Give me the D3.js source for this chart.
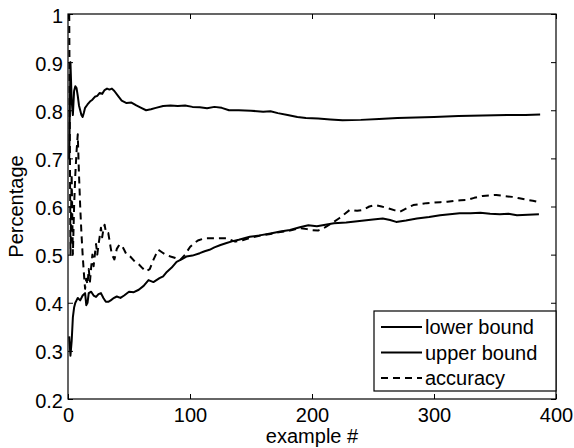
<!DOCTYPE html>
<html>
<head>
<meta charset="utf-8">
<script src="https://cdn.jsdelivr.net/npm/d3@7"></script>
<style>
  body { margin: 0; background: #fff; }
  text { font-family: "Liberation Sans", Arial, sans-serif; fill: #000; }
</style>
</head>
<body>
<div id="chart"></div>
<script>
const xTicks = [0, 100, 200, 300, 400];
const yTicks = [0.2, 0.3, 0.4, 0.5, 0.6, 0.7, 0.8, 0.9, 1];
const yTickLabels = ["0.2", "0.3", "0.4", "0.5", "0.6", "0.7", "0.8", "0.9", "1"];
const seriesNames = ["lower bound", "upper bound", "accuracy"];

const upperX = [1, 2, 3, 4, 5, 6, 7, 8, 9, 10, 11, 12, 13, 14, 16, 18, 20, 22, 24, 26, 28, 30, 32, 34, 36, 38, 41, 44, 48, 52, 56, 60, 64, 68, 72, 78, 84, 90, 96, 102, 108, 114, 120, 126, 132, 140, 150, 160, 166, 172, 180, 188, 195, 205, 215, 225, 240, 255, 270, 285, 300, 320, 340, 360, 375, 387];
const upperY = [0.70, 0.90, 0.82, 0.79, 0.84, 0.85, 0.846, 0.83, 0.81, 0.80, 0.79, 0.786, 0.795, 0.805, 0.812, 0.818, 0.822, 0.828, 0.83, 0.836, 0.834, 0.842, 0.845, 0.843, 0.845, 0.84, 0.83, 0.82, 0.815, 0.816, 0.81, 0.805, 0.80, 0.802, 0.805, 0.809, 0.81, 0.809, 0.81, 0.807, 0.806, 0.804, 0.807, 0.805, 0.80, 0.80, 0.799, 0.797, 0.798, 0.794, 0.79, 0.786, 0.784, 0.783, 0.781, 0.779, 0.78, 0.782, 0.784, 0.785, 0.786, 0.788, 0.789, 0.79, 0.79, 0.791];

const lowerX = [1, 2, 3, 4, 5, 6, 7, 8, 10, 12, 14, 15, 16, 17, 19, 21, 23, 25, 27, 29, 31, 33, 35, 37, 40, 43, 46, 50, 54, 58, 62, 66, 70, 75, 78, 81, 85, 89, 93, 97, 102, 108, 112, 116, 120, 125, 130, 135, 140, 149, 157, 166, 174, 182, 190, 197, 204, 211, 218, 228, 239, 250, 258, 264, 269, 277, 286, 296, 305, 313, 321, 330, 338, 346, 354, 361, 368, 377, 386];
const lowerY = [0.33, 0.29, 0.32, 0.37, 0.39, 0.40, 0.405, 0.41, 0.405, 0.415, 0.42, 0.395, 0.40, 0.42, 0.423, 0.415, 0.412, 0.418, 0.42, 0.41, 0.402, 0.402, 0.405, 0.409, 0.413, 0.41, 0.415, 0.423, 0.422, 0.427, 0.435, 0.447, 0.443, 0.451, 0.455, 0.464, 0.473, 0.485, 0.49, 0.496, 0.498, 0.503, 0.507, 0.51, 0.515, 0.52, 0.524, 0.528, 0.531, 0.537, 0.54, 0.544, 0.548, 0.551, 0.557, 0.561, 0.559, 0.562, 0.565, 0.567, 0.570, 0.573, 0.575, 0.572, 0.568, 0.571, 0.575, 0.578, 0.582, 0.584, 0.586, 0.586, 0.587, 0.585, 0.584, 0.585, 0.582, 0.583, 0.584];

const accX = [1, 2, 3, 4, 5, 6, 7, 8, 9, 10, 11, 12, 13, 14, 15, 16, 17, 18, 19, 20, 21, 22, 23, 24, 25, 26, 27, 28, 29, 30, 31, 32, 33, 34, 35, 36, 37, 38, 39, 40, 42, 44, 46, 48, 51, 55, 58, 61, 64, 67, 70, 72, 74, 77, 80, 84, 88, 92, 96, 100, 104, 107, 112, 118, 124, 130, 137, 143, 150, 158, 166, 174, 182, 190, 196, 200, 205, 211, 216, 222, 227, 231, 237, 242, 247, 252, 257, 263, 268, 272, 278, 283, 289, 294, 300, 305, 311, 317, 322, 327, 333, 340, 345, 351, 357, 364, 370, 376, 381, 386];
const accY = [1.0, 0.5, 0.667, 0.5, 0.6, 0.667, 0.714, 0.75, 0.667, 0.6, 0.545, 0.5, 0.462, 0.429, 0.45, 0.438, 0.47, 0.444, 0.474, 0.5, 0.476, 0.5, 0.522, 0.5, 0.52, 0.538, 0.556, 0.536, 0.552, 0.562, 0.548, 0.544, 0.545, 0.53, 0.514, 0.5, 0.495, 0.49, 0.5, 0.512, 0.52, 0.52, 0.51, 0.5, 0.496, 0.485, 0.48, 0.472, 0.465, 0.47, 0.489, 0.5, 0.51, 0.505, 0.5, 0.496, 0.493, 0.489, 0.5, 0.516, 0.525, 0.53, 0.534, 0.534, 0.534, 0.534, 0.527, 0.53, 0.535, 0.54, 0.543, 0.547, 0.55, 0.555, 0.553, 0.551, 0.55, 0.557, 0.565, 0.575, 0.585, 0.593, 0.591, 0.593, 0.6, 0.603, 0.6, 0.596, 0.592, 0.589, 0.597, 0.603, 0.605, 0.607, 0.608, 0.609, 0.61, 0.612, 0.613, 0.6135, 0.618, 0.622, 0.623, 0.624, 0.622, 0.62, 0.617, 0.614, 0.612, 0.609];

const width = 574;
const height = 448;
const plotLeft = 68, plotRight = 556, plotTop = 14, plotBottom = 399;
const fontSize = 20;

const x = d3.scaleLinear().domain([0, 400]).range([plotLeft, plotRight]);
const y = d3.scaleLinear().domain([0.2, 1]).range([plotBottom, plotTop]);

const svg = d3.select("#chart").append("svg")
  .attr("width", width)
  .attr("height", height);

svg.append("defs").append("clipPath").attr("id", "clip")
  .append("rect")
  .attr("x", plotLeft).attr("y", plotTop - 1)
  .attr("width", plotRight - plotLeft).attr("height", plotBottom - plotTop + 1);

// ticks point inward on all four sides, like matlab
const tickLen = 5;
svg.append("g").attr("transform", `translate(0,${plotBottom})`)
  .call(d3.axisBottom(x).tickValues(xTicks).tickSizeInner(-tickLen).tickSizeOuter(0).tickPadding(9))
  .call(g => g.select(".domain").remove())
  .call(g => g.selectAll("text").attr("font-size", fontSize).attr("dy", "0.71em"));
svg.append("g").attr("transform", `translate(0,${plotTop})`)
  .call(d3.axisTop(x).tickValues(xTicks).tickSizeInner(-tickLen).tickSizeOuter(0).tickFormat(""))
  .call(g => g.select(".domain").remove());
svg.append("g").attr("transform", `translate(${plotLeft},0)`)
  .call(d3.axisLeft(y).tickValues(yTicks).tickSizeInner(-tickLen).tickSizeOuter(0).tickPadding(5)
    .tickFormat((d, i) => yTickLabels[i]))
  .call(g => g.select(".domain").remove())
  .call(g => g.selectAll("text").attr("font-size", fontSize).attr("dy", "0.4em"));
svg.append("g").attr("transform", `translate(${plotRight},0)`)
  .call(d3.axisRight(y).tickValues(yTicks).tickSizeInner(-tickLen).tickSizeOuter(0).tickFormat(""))
  .call(g => g.select(".domain").remove());

svg.selectAll(".tick line").attr("stroke", "#000");

svg.append("rect")
  .attr("x", plotLeft).attr("y", plotTop)
  .attr("width", plotRight - plotLeft).attr("height", plotBottom - plotTop)
  .attr("fill", "none").attr("stroke", "#000").attr("stroke-width", 1.2);

const line = d3.line().x(d => x(d[0])).y(d => y(d[1]));
const plot = svg.append("g").attr("clip-path", "url(#clip)");

const series = [
  { xs: lowerX, ys: lowerY, dash: null },
  { xs: upperX, ys: upperY, dash: null },
  { xs: accX, ys: accY, dash: "7,5" },
];

series.forEach(s => {
  plot.append("path")
    .datum(s.xs.map((v, i) => [v, s.ys[i]]))
    .attr("d", line)
    .attr("fill", "none")
    .attr("stroke", "#000")
    .attr("stroke-width", 2)
    .attr("stroke-linejoin", "round")
    .attr("stroke-dasharray", s.dash);
});

// axis labels
svg.append("text")
  .attr("x", x(200)).attr("y", 443)
  .attr("text-anchor", "middle")
  .attr("font-size", fontSize)
  .text("example #");

svg.append("text")
  .attr("transform", `translate(22.5,${(plotTop + plotBottom) / 2}) rotate(-90)`)
  .attr("text-anchor", "middle")
  .attr("font-size", fontSize)
  .text("Percentage");

// legend
const legend = svg.append("g");
legend.append("rect")
  .attr("x", 374).attr("y", 311)
  .attr("width", 182).attr("height", 80)
  .attr("fill", "#fff").attr("stroke", "#000").attr("stroke-width", 1.2);

seriesNames.forEach((name, i) => {
  const cy = 327 + i * 25.5;
  legend.append("line")
    .attr("x1", 381).attr("x2", 422)
    .attr("y1", cy).attr("y2", cy)
    .attr("stroke", "#000").attr("stroke-width", 2)
    .attr("stroke-dasharray", series[i].dash);
  legend.append("text")
    .attr("x", 425).attr("y", cy)
    .attr("dy", "0.35em")
    .attr("font-size", fontSize)
    .text(name);
});
</script>
</body>
</html>
